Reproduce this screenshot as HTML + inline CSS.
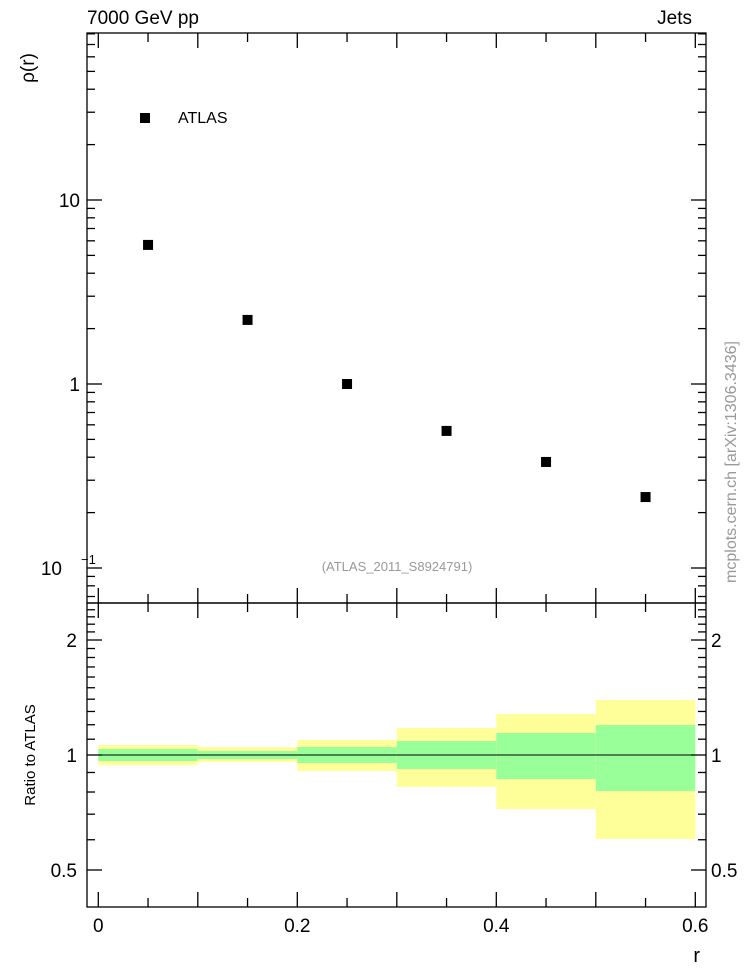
<!DOCTYPE html>
<html><head><meta charset="utf-8"><style>
body{margin:0;background:#fff}
svg text{font-family:"Liberation Sans",sans-serif}
</style></head><body>
<svg id="c" width="746" height="972" xmlns="http://www.w3.org/2000/svg"></svg>
<script>
const binEdges=[0,0.1,0.2,0.3,0.4,0.5,0.6];
const xCenters=[0.05,0.15,0.25,0.35,0.45,0.55];
const rhoValues=[5.7,2.23,1.0,0.556,0.377,0.243];
const yellowHi=[1.062,1.049,1.094,1.177,1.28,1.393];
const yellowLo=[0.94,0.959,0.908,0.825,0.722,0.603];
const greenHi=[1.037,1.024,1.049,1.088,1.142,1.198];
const greenLo=[0.964,0.976,0.953,0.919,0.865,0.805];
const xTickLabels=["0","0.2","0.4","0.6"];
const xTickValues=[0,0.2,0.4,0.6];
const ratioTickValues=[0.5,1,2];
const ratioTickLabels=["0.5","1","2"];

const NS="http://www.w3.org/2000/svg";
const svg=document.getElementById('c');
const L=87,R=706,T=33,M=603,B=907;
const X=v=>98.3+v*995;
const Y=v=>200-(Math.log10(v)-1)*184;
const YR=v=>755-Math.log10(v)*382;
function el(tag,attrs,name,text){const e=document.createElementNS(NS,tag);for(const k in attrs)e.setAttribute(k,attrs[k]);


if(text!==undefined)e.textContent=text;svg.appendChild(e);return e;}
function line(x1,y1,x2,y2,name,w){return el('line',{x1,y1,x2,y2,stroke:'#000','stroke-width':w||1.3},name);}

// bands
for(let i=0;i<6;i++){
 const x0=X(binEdges[i]),x1=X(binEdges[i+1]);
 el('rect',{x:x0,y:YR(yellowHi[i]),width:x1-x0,height:YR(yellowLo[i])-YR(yellowHi[i]),fill:'#ffff99'},'syst-band-'+i);
 el('rect',{x:x0,y:YR(greenHi[i]),width:x1-x0,height:YR(greenLo[i])-YR(greenHi[i]),fill:'#99ff99'},'stat-band-'+i);
}
line(X(0),YR(1),X(0.6),YR(1),'ratio-unity-line',1);

// frames
el('rect',{x:L,y:T,width:R-L,height:M-T,fill:'none',stroke:'#000','stroke-width':1.3},'main-frame');
el('rect',{x:L,y:M,width:R-L,height:B-M,fill:'none',stroke:'#000','stroke-width':1.3},'ratio-frame');

// x ticks
for(let k=0;k<=12;k++){const v=k*0.05,x=X(v),len=(k%2==0)?15:9;
 line(x,M,x,M-len,'x-tick-top');line(x,M,x,M+len,'x-tick-mid');line(x,B,x,B-len,'x-tick-bottom');line(x,T,x,T+len,'x-tick-top-frame');}
xTickValues.forEach((v,i)=>el('text',{x:X(v),y:932,'font-size':19,'text-anchor':'middle'},'x-tick-label',xTickLabels[i]));
el('text',{x:700,y:962,'font-size':20,'text-anchor':'end'},'x-axis-title','r');

// main log y ticks
for(let d=-2;d<=2;d++)for(let m=1;m<=9;m++){const v=m*Math.pow(10,d),y=Y(v);if(y<T||y>M)continue;const len=m==1?15:8;
 line(L,y,L+len,y,'y-tick');line(R,y,R-len,y,'y-tick-right');}
el('text',{x:80,y:207,'font-size':19,'text-anchor':'end'},'y-tick-label','10');
el('text',{x:80,y:391,'font-size':19,'text-anchor':'end'},'y-tick-label','1');
const t=el('text',{x:80,y:575,'font-size':19,'text-anchor':'end'},'y-tick-label','10');
el('text',{x:81,y:564,'font-size':13},'y-tick-exponent','−1');
t.setAttribute('x',62);
el('text',{x:0,y:0,'font-size':19,transform:'translate(34,68) rotate(-90)','text-anchor':'middle'},'y-axis-title','ρ(r)');

// ratio ticks
for(let v=0.4;v<=2.51;v+=0.1){const y=YR(v);if(y<M||y>B)continue;const major=[0.5,1,2].some(m=>Math.abs(m-v)<1e-6);const len=major?15:8;
 line(L,y,L+len,y,'ratio-tick');line(R,y,R-len,y,'ratio-tick-right');}
ratioTickValues.forEach((v,i)=>{el('text',{x:77,y:YR(v)+7,'font-size':19,'text-anchor':'end'},'ratio-tick-label',ratioTickLabels[i]);
 el('text',{x:711,y:YR(v)+7,'font-size':19},'ratio-tick-label-right',ratioTickLabels[i]);});
el('text',{x:0,y:0,'font-size':15,transform:'translate(35,755) rotate(-90)','text-anchor':'middle'},'ratio-axis-title','Ratio to ATLAS');

// points
xCenters.forEach((c,i)=>el('rect',{x:X(c)-5,y:Y(rhoValues[i])-5,width:10,height:10,fill:'#000'},'atlas-point'));

// legend & labels
el('rect',{x:140,y:113,width:10,height:10,fill:'#000'},'legend-marker');
el('text',{x:178,y:123,'font-size':16},'legend-label','ATLAS');
el('text',{x:87,y:24,'font-size':19},'title-left','7000 GeV pp');
el('text',{x:692,y:24,'font-size':19,'text-anchor':'end'},'title-right','Jets');
el('text',{x:397,y:571,'font-size':13,fill:'#999','text-anchor':'middle'},'analysis-label','(ATLAS_2011_S8924791)');
el('text',{x:0,y:0,'font-size':16,fill:'#999',transform:'translate(736,462) rotate(-90)','text-anchor':'middle'},'credit-label','mcplots.cern.ch [arXiv:1306.3436]');
</script>
</body></html>
